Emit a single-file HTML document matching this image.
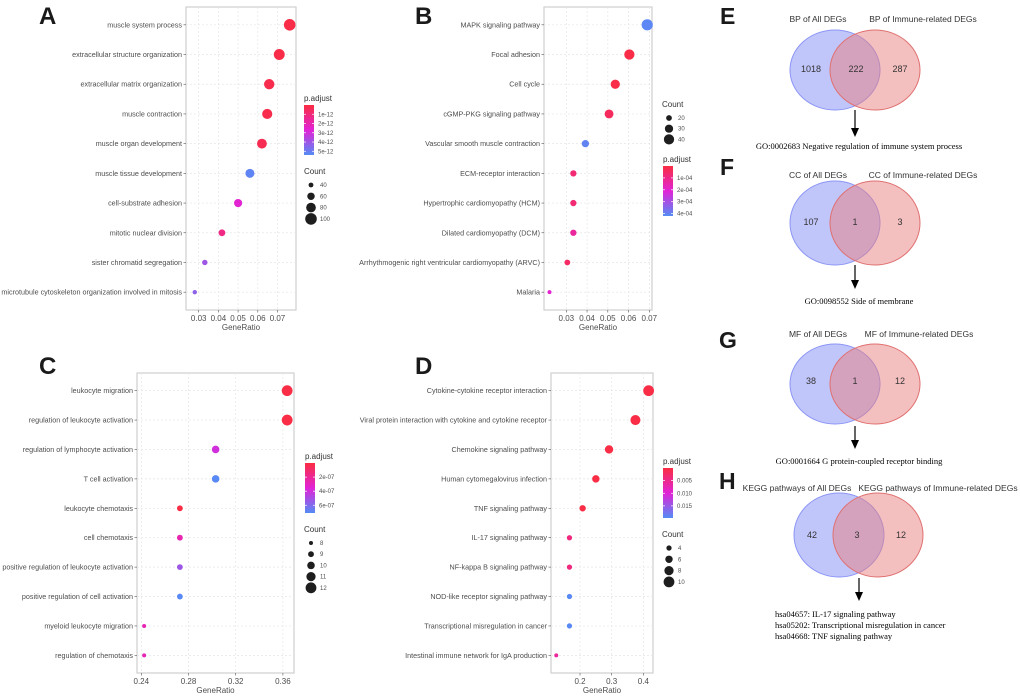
<!DOCTYPE html>
<html><head><meta charset="utf-8">
<style>
html,body{margin:0;padding:0;background:#fff;}
svg{display:block;font-family:"Liberation Sans",Arial,sans-serif;}
</style></head>
<body>
<svg id="fig" width="1020" height="696" viewBox="0 0 1020 696" xmlns="http://www.w3.org/2000/svg">
<g id="charts"></g>

<!-- Venn E -->
<g>
<text x="720" y="24" font-size="23" font-weight="bold" fill="#1a1a1a">E</text>
<ellipse cx="835" cy="70" rx="45" ry="40" fill="#8c96f5" fill-opacity="0.55" stroke="#8c96f5"/>
<ellipse cx="875" cy="70" rx="45" ry="40" fill="#e88080" fill-opacity="0.5" stroke="#e07070"/>
<text x="818" y="22" font-size="8.5" text-anchor="middle" fill="#333">BP of All DEGs</text>
<text x="923" y="22" font-size="8.5" text-anchor="middle" fill="#333">BP of Immune-related DEGs</text>
<text x="811" y="72" font-size="9" text-anchor="middle" fill="#333">1018</text>
<text x="856" y="72" font-size="9" text-anchor="middle" fill="#333">222</text>
<text x="900" y="72" font-size="9" text-anchor="middle" fill="#333">287</text>
<line x1="855" y1="110" x2="855" y2="133" stroke="#000" stroke-width="1.2"/>
<path d="M851,128 L855,137 L859,128 Z" fill="#000"/>
<text x="859" y="149" font-size="8.5" text-anchor="middle" font-family="Liberation Serif,serif" fill="#000">GO:0002683 Negative regulation of immune system process</text>
</g>

<!-- Venn F -->
<g>
<text x="720" y="175" font-size="23" font-weight="bold" fill="#1a1a1a">F</text>
<ellipse cx="835" cy="223" rx="45" ry="42" fill="#8c96f5" fill-opacity="0.55" stroke="#8c96f5"/>
<ellipse cx="875" cy="223" rx="45" ry="42" fill="#e88080" fill-opacity="0.5" stroke="#e07070"/>
<text x="818" y="178" font-size="8.5" text-anchor="middle" fill="#333">CC of All DEGs</text>
<text x="923" y="178" font-size="8.5" text-anchor="middle" fill="#333">CC of Immune-related DEGs</text>
<text x="811" y="225" font-size="9" text-anchor="middle" fill="#333">107</text>
<text x="855" y="225" font-size="9" text-anchor="middle" fill="#333">1</text>
<text x="900" y="225" font-size="9" text-anchor="middle" fill="#333">3</text>
<line x1="855" y1="265" x2="855" y2="285" stroke="#000" stroke-width="1.2"/>
<path d="M851,280 L855,289 L859,280 Z" fill="#000"/>
<text x="859" y="304" font-size="8.5" text-anchor="middle" font-family="Liberation Serif,serif" fill="#000">GO:0098552 Side of membrane</text>
</g>

<!-- Venn G -->
<g>
<text x="719" y="348" font-size="23" font-weight="bold" fill="#1a1a1a">G</text>
<ellipse cx="835" cy="384" rx="45" ry="40" fill="#8c96f5" fill-opacity="0.55" stroke="#8c96f5"/>
<ellipse cx="875" cy="384" rx="45" ry="40" fill="#e88080" fill-opacity="0.5" stroke="#e07070"/>
<text x="818" y="337" font-size="8.5" text-anchor="middle" fill="#333">MF of All DEGs</text>
<text x="919" y="337" font-size="8.5" text-anchor="middle" fill="#333">MF of Immune-related DEGs</text>
<text x="811" y="384" font-size="9" text-anchor="middle" fill="#333">38</text>
<text x="855" y="384" font-size="9" text-anchor="middle" fill="#333">1</text>
<text x="900" y="384" font-size="9" text-anchor="middle" fill="#333">12</text>
<line x1="855" y1="426" x2="855" y2="445" stroke="#000" stroke-width="1.2"/>
<path d="M851,440 L855,449 L859,440 Z" fill="#000"/>
<text x="859" y="464" font-size="8.5" text-anchor="middle" font-family="Liberation Serif,serif" fill="#000">GO:0001664 G protein-coupled receptor binding</text>
</g>

<!-- Venn H -->
<g>
<text x="719" y="489" font-size="23" font-weight="bold" fill="#1a1a1a">H</text>
<ellipse cx="839" cy="535" rx="45" ry="42" fill="#8c96f5" fill-opacity="0.55" stroke="#8c96f5"/>
<ellipse cx="878" cy="535" rx="45" ry="42" fill="#e88080" fill-opacity="0.5" stroke="#e07070"/>
<text x="797" y="491" font-size="8.5" text-anchor="middle" fill="#333">KEGG pathways of All DEGs</text>
<text x="938" y="491" font-size="8.5" text-anchor="middle" fill="#333">KEGG pathways of Immune-related DEGs</text>
<text x="812" y="538" font-size="9" text-anchor="middle" fill="#333">42</text>
<text x="857" y="538" font-size="9" text-anchor="middle" fill="#333">3</text>
<text x="901" y="538" font-size="9" text-anchor="middle" fill="#333">12</text>
<line x1="859" y1="578" x2="859" y2="597" stroke="#000" stroke-width="1.2"/>
<path d="M855,592 L859,601 L863,592 Z" fill="#000"/>
<g font-size="8.5" font-family="Liberation Serif,serif" fill="#000">
<text x="775" y="617">hsa04657: IL-17 signaling pathway</text>
<text x="775" y="628">hsa05202: Transcriptional misregulation in cancer</text>
<text x="775" y="639">hsa04668: TNF signaling pathway</text>
</g>
</g>
</svg>
<script>
// ---- Panel A data ----
const aCategories = ["muscle system process","extracellular structure organization","extracellular matrix organization","muscle contraction","muscle organ development","muscle tissue development","cell-substrate adhesion","mitotic nuclear division","sister chromatid segregation","microtubule cytoskeleton organization involved in mitosis"];
const aRatio = [0.0762,0.0709,0.0658,0.0648,0.0621,0.0560,0.0500,0.0418,0.0331,0.0280];
const aCount = [100,93,87,85,82,74,66,55,44,37];
const aPadj = [0.1e-12,0.1e-12,0.2e-12,0.2e-12,0.3e-12,5.2e-12,2.6e-12,1.2e-12,4.0e-12,4.3e-12];
const aXTicks = [0.03,0.04,0.05,0.06,0.07];
const aXTickLabels = ["0.03","0.04","0.05","0.06","0.07"];
const aPTicks = [1e-12,2e-12,3e-12,4e-12,5e-12];
const aPTickLabels = ["1e-12","2e-12","3e-12","4e-12","5e-12"];
const aCountBreaks = [40,60,80,100];
// ---- Panel B data ----
const bCategories = ["MAPK signaling pathway","Focal adhesion","Cell cycle","cGMP-PKG signaling pathway","Vascular smooth muscle contraction","ECM-receptor interaction","Hypertrophic cardiomyopathy (HCM)","Dilated cardiomyopathy (DCM)","Arrhythmogenic right ventricular cardiomyopathy (ARVC)","Malaria"];
const bRatio = [0.0690,0.0604,0.0536,0.0506,0.0392,0.0334,0.0334,0.0334,0.0305,0.0219];
const bCount = [45,40,35,33,26,22,22,22,20,14];
const bPadj = [4.1e-4,0.1e-4,0.1e-4,0.4e-4,4.0e-4,0.7e-4,0.7e-4,1.3e-4,0.5e-4,2.0e-4];
const bXTicks = [0.03,0.04,0.05,0.06,0.07];
const bXTickLabels = ["0.03","0.04","0.05","0.06","0.07"];
const bPTicks = [1e-4,2e-4,3e-4,4e-4];
const bPTickLabels = ["1e-04","2e-04","3e-04","4e-04"];
const bCountBreaks = [20,30,40];
// ---- Panel C data ----
const cCategories = ["leukocyte migration","regulation of leukocyte activation","regulation of lymphocyte activation","T cell activation","leukocyte chemotaxis","cell chemotaxis","positive regulation of leukocyte activation","positive regulation of cell activation","myeloid leukocyte migration","regulation of chemotaxis"];
const cRatio = [0.3636,0.3636,0.3030,0.3030,0.2727,0.2727,0.2727,0.2727,0.2424,0.2424];
const cCount = [12,12,10,10,9,9,9,9,8,8];
const cPadj = [0.1e-7,0.1e-7,4.0e-7,7.0e-7,0.1e-7,2.6e-7,5.3e-7,7.0e-7,2.8e-7,2.8e-7];
const cXTicks = [0.24,0.28,0.32,0.36];
const cXTickLabels = ["0.24","0.28","0.32","0.36"];
const cPTicks = [2e-7,4e-7,6e-7];
const cPTickLabels = ["2e-07","4e-07","6e-07"];
const cCountBreaks = [8,9,10,11,12];
// ---- Panel D data ----
const dCategories = ["Cytokine-cytokine receptor interaction","Viral protein interaction with cytokine and cytokine receptor","Chemokine signaling pathway","Human cytomegalovirus infection","TNF signaling pathway","IL-17 signaling pathway","NF-kappa B signaling pathway","NOD-like receptor signaling pathway","Transcriptional misregulation in cancer","Intestinal immune network for IgA production"];
const dRatio = [0.4167,0.3750,0.2917,0.2500,0.2083,0.1667,0.1667,0.1667,0.1667,0.1250];
const dCount = [10,9,7,6,5,4,4,4,4,3];
const dPadj = [0.0003,0.0003,0.0003,0.0003,0.0003,0.004,0.004,0.0195,0.0195,0.006];
const dXTicks = [0.2,0.3,0.4];
const dXTickLabels = ["0.2","0.3","0.4"];
const dPTicks = [0.005,0.010,0.015];
const dPTickLabels = ["0.005","0.010","0.015"];
const dCountBreaks = [4,6,8,10];

const NS = "http://www.w3.org/2000/svg";
const root = document.getElementById("charts");
function mk(tag, attrs, parent){ const e=document.createElementNS(NS,tag); for(const k in attrs) e.setAttribute(k,attrs[k]); (parent||root).appendChild(e); return e; }

function lerp(a,b,t){return a+(b-a)*t;}
function colorAt(t){
  t=Math.max(0,Math.min(1,t));
  const red=[250,45,65], mag=[225,35,215], blue=[85,140,245];
  let c;
  if(t<0.5){const u=t/0.5;c=red.map((v,i)=>lerp(v,mag[i],u));}
  else {const u=(t-0.5)/0.5;c=mag.map((v,i)=>lerp(v,blue[i],u));}
  return "rgb("+c.map(Math.round).join(",")+")";
}

function panel(p){
  const g = mk("g",{});
  
  
  const lab = mk("text",{x:p.letterX,y:p.letterY,"font-size":24,"font-weight":"bold",fill:"#1a1a1a"},g);
  lab.textContent=p.letter;
  
  
  const L=p.L,R=p.R,T=p.T,B=p.B;
  const xs = v => L + (v-p.xmin)/(p.xmax-p.xmin)*(R-L);
  const n = p.cats.length;
  const step = (B-T)/(n-1+1.2);
  const ys = i => T + step*0.6 + i*step;
  const bg = mk("rect",{x:L,y:T,width:R-L,height:B-T,fill:"#fff",stroke:"#cfcfcf","stroke-width":1.2},g);
  
  
  p.xticks.forEach((v,i)=>{
    const x=xs(v);
    const gl=mk("line",{x1:x,y1:T,x2:x,y2:B,stroke:"#e6e6e6","stroke-width":0.7,"stroke-dasharray":"2,2"},g);
    
    
    mk("line",{x1:x,y1:B,x2:x,y2:B+2.5,stroke:"#555","stroke-width":0.6},g);
    const t=mk("text",{x:x,y:B+11,"font-size":8,"text-anchor":"middle",fill:"#4d4d4d"},g);
    t.textContent=p.xlabels[i];
    
    
  });
  const xt=mk("text",{x:(L+R)/2,y:B+20,"font-size":8,"text-anchor":"middle",fill:"#4d4d4d"},g);
  xt.textContent="GeneRatio";
  
  
  p.cats.forEach((c,i)=>{
    const y=ys(i);
    const gl=mk("line",{x1:L,y1:y,x2:R,y2:y,stroke:"#e6e6e6","stroke-width":0.7,"stroke-dasharray":"2,2"},g);
    
    
    mk("line",{x1:L-2.5,y1:y,x2:L,y2:y,stroke:"#555","stroke-width":0.6},g);
    const t=mk("text",{x:L-4,y:y+2.5,"font-size":7.2,"text-anchor":"end",fill:"#4d4d4d"},g);
    t.textContent=c;
    
    
  });
  const cmin=Math.min(...p.count), cmax=Math.max(...p.count);
  const rs = c => p.rmin + (Math.sqrt(c)-Math.sqrt(cmin))/(Math.sqrt(cmax)-Math.sqrt(cmin))*(p.rmax-p.rmin);
  const ct = v => (v-p.plo)/(p.phi-p.plo);
  p.ratio.forEach((v,i)=>{
    const d=mk("circle",{cx:xs(v),cy:ys(i),r:rs(p.count[i]),fill:colorAt(ct(p.padj[i]))},g);
    
    
  });
  const cl=p.cLeg;
  const ctitle=mk("text",{x:cl.x,y:cl.y-4,"font-size":8,fill:"#333"},g);
  ctitle.textContent="p.adjust";
  
  
  const gid="grad"+p.letter;
  const defs=mk("defs",{},g);
  const lg=mk("linearGradient",{id:gid,x1:0,y1:0,x2:0,y2:1},defs);
  for(let k=0;k<=10;k++){ mk("stop",{offset:k/10,"stop-color":colorAt(k/10)},lg); }
  const bar=mk("rect",{x:cl.x,y:cl.y,width:10,height:50,fill:"url(#"+gid+")"},g);
  
  
  p.pticks.forEach((v,i)=>{
    const y=cl.y+ct(v)*50;
    mk("line",{x1:cl.x,y1:y,x2:cl.x+2,y2:y,stroke:"#fff","stroke-width":0.7},g);
    mk("line",{x1:cl.x+8,y1:y,x2:cl.x+10,y2:y,stroke:"#fff","stroke-width":0.7},g);
    const t=mk("text",{x:cl.x+14,y:y+2,"font-size":6,fill:"#4d4d4d"},g);
    t.textContent=p.plabels[i];
    
    
  });
  const sl=p.sLeg;
  const st=mk("text",{x:sl.x,y:sl.y,"font-size":8,fill:"#333"},g);
  st.textContent="Count";
  
  
  p.breaks.forEach((c,i)=>{
    const y=sl.y+11+i*sl.step;
    const d=mk("circle",{cx:sl.x+7,cy:y,r:rs(c),fill:"#1e1e1e"},g);
    
    
    const t=mk("text",{x:sl.x+16,y:y+2,"font-size":6,fill:"#4d4d4d"},g);
    t.textContent=String(c);
    
    
  });
}

panel({name:"dotplot-a",letter:"A",letterX:39,letterY:24,L:186,R:296,T:7,B:310,xmin:0.02355,xmax:0.0794,
  cats:aCategories,ratio:aRatio,count:aCount,padj:aPadj,xticks:aXTicks,xlabels:aXTickLabels,
  plo:0,phi:5.4e-12,pticks:aPTicks,plabels:aPTickLabels,breaks:aCountBreaks,rmin:2.2,rmax:5.8,
  cLeg:{x:304,y:105},sLeg:{x:304,y:174,step:11.3}});
panel({name:"dotplot-b",letter:"B",letterX:415,letterY:24,L:544,R:652,T:7,B:310,xmin:0.01925,xmax:0.0713,
  cats:bCategories,ratio:bRatio,count:bCount,padj:bPadj,xticks:bXTicks,xlabels:bXTickLabels,
  plo:0,phi:4.2e-4,pticks:bPTicks,plabels:bPTickLabels,breaks:bCountBreaks,rmin:2,rmax:5.6,
  cLeg:{x:663,y:166},sLeg:{x:662,y:107,step:10.7}});
panel({name:"dotplot-c",letter:"C",letterX:39,letterY:374,L:137,R:294,T:373,B:673,xmin:0.23636,xmax:0.3694,
  cats:cCategories,ratio:cRatio,count:cCount,padj:cPadj,xticks:cXTicks,xlabels:cXTickLabels,
  plo:0,phi:7.1e-7,pticks:cPTicks,plabels:cPTickLabels,breaks:cCountBreaks,rmin:2,rmax:5.4,
  cLeg:{x:305,y:463},sLeg:{x:304,y:532,step:11.2}});
panel({name:"dotplot-d",letter:"D",letterX:415,letterY:374,L:551,R:653,T:373,B:673,xmin:0.1084,xmax:0.4305,
  cats:dCategories,ratio:dRatio,count:dCount,padj:dPadj,xticks:dXTicks,xlabels:dXTickLabels,
  plo:0,phi:0.0198,pticks:dPTicks,plabels:dPTickLabels,breaks:dCountBreaks,rmin:2,rmax:5.4,
  cLeg:{x:663,y:468},sLeg:{x:662,y:537,step:11.3}});
</script>
</body></html>
